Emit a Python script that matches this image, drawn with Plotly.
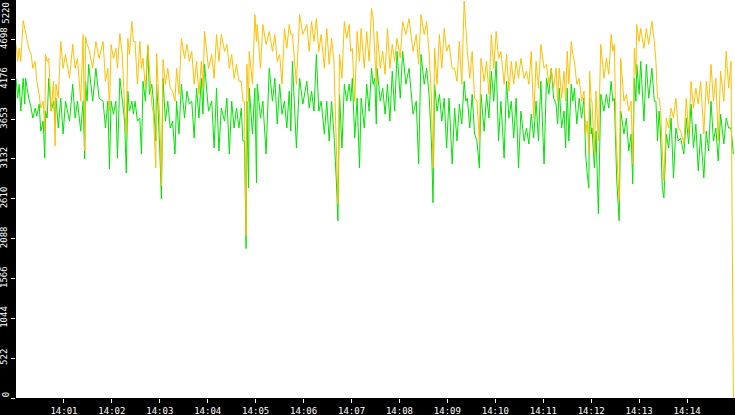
import pandas as pd
import plotly.graph_objects as go

# seconds after 14:00:00 for every sample
secs = [0, 2, 4, 6, 9, 11, 12, 16, 19, 21,
        24, 26, 29, 31, 34, 36, 37, 39, 41, 44,
        47, 49, 50, 53, 56, 59, 62, 67, 71, 74,
        77, 81, 84, 86, 87, 89, 91, 96, 100, 104,
        109, 112, 115, 117, 119, 122, 125, 127, 130, 133,
        136, 138, 140, 142, 145, 147, 149, 152, 155, 157,
        159, 162, 165, 167, 170, 172, 174, 175, 176, 178,
        180, 182, 184, 187, 190, 193, 196, 199, 201, 204,
        207, 211, 214, 217, 220, 223, 226, 229, 232, 234,
        236, 241, 245, 248, 251, 254, 257, 261, 264, 267,
        270, 273, 276, 279, 282, 284, 286, 288, 289, 291,
        292, 296, 299, 301, 302, 306, 309, 313, 317, 321,
        324, 327, 330, 333, 336, 339, 342, 344, 346, 351,
        355, 359, 364, 367, 370, 373, 376, 379, 382, 386,
        389, 392, 395, 398, 401, 403, 405, 408, 411, 414,
        417, 419, 421, 424, 427, 430, 432, 436, 439, 442,
        445, 447, 449, 451, 452, 456, 459, 462, 465, 468,
        471, 474, 477, 481, 484, 488, 492, 497, 501, 504,
        507, 511, 514, 517, 520, 522, 524, 527, 530, 533,
        536, 539, 542, 546, 549, 552, 555, 558, 561, 563,
        565, 568, 571, 574, 577, 580, 582, 586, 589, 592,
        595, 598, 601, 604, 607, 611, 614, 617, 620, 623,
        626, 629, 632, 636, 639, 642, 645, 648, 651, 654,
        657, 661, 664, 667, 670, 673, 676, 678, 680, 683,
        686, 688, 690, 692, 695, 697, 699, 702, 705, 708,
        711, 713, 715, 717, 718, 720, 721, 724, 726, 729,
        732, 736, 739, 742, 745, 747, 749, 751, 752, 755,
        757, 761, 764, 767, 770, 772, 774, 776, 777, 780,
        782, 786, 789, 792, 796, 799, 801, 803, 805, 807,
        809, 811, 814, 817, 820, 823, 826, 829, 832, 836,
        839, 842, 845, 848, 851, 854, 857, 861, 864, 867,
        870, 873, 876, 879, 882, 886, 889, 892, 895, 898]

orange = [4633, 4411, 4581, 4411, 4946, 4829, 4776, 4581, 4502, 4320,
          4411, 4150, 3980, 3798, 3889, 3497, 4502, 4411, 4450, 3759,
          4150, 3302, 4111, 3928, 4672, 4320, 4502, 4189, 4633, 4320,
          4450, 3889, 4763, 3237, 4737, 4633, 4581, 4320, 4672, 4450,
          4672, 4150, 4320, 3759, 4633, 4450, 4581, 4320, 4776, 4502,
          3798, 3458, 4711, 4502, 4933, 4672, 4672, 4111, 4672, 4320,
          4450, 4059, 4633, 4320, 3850, 3719, 3276, 3015, 4515, 4059,
          3628, 2780, 4437, 4111, 4320, 4059, 4020, 3889, 4320, 3980,
          4711, 4450, 4633, 4411, 4542, 4111, 4411, 3980, 4411, 4059,
          4803, 4320, 4502, 4189, 4763, 4411, 4763, 4542, 4633, 4320,
          4502, 4189, 4372, 4150, 4150, 3889, 3889, 2127, 4372, 3889,
          4542, 4111, 5024, 4672, 4894, 4320, 4894, 4633, 4803, 4542,
          4763, 4411, 4502, 4111, 4842, 4581, 4894, 4763, 4763, 4111,
          5024, 4763, 4894, 4542, 4933, 4672, 4972, 4542, 4763, 4320,
          4842, 4372, 4711, 4411, 3197, 2545, 4502, 4189, 4933, 4711,
          4894, 4542, 4581, 3889, 4803, 4411, 4842, 4320, 4803, 4411,
          5103, 4972, 4542, 4111, 4803, 4320, 4542, 4241, 4842, 4320,
          4633, 4411, 4711, 4450, 4933, 4763, 4972, 4542, 4763, 4372,
          5024, 4763, 4933, 4542, 3928, 3015, 4581, 4111, 4763, 4320,
          4842, 4542, 4633, 4320, 4320, 4150, 4672, 4111, 5200, 4842,
          4542, 4189, 4542, 3928, 3889, 3367, 4450, 4150, 4411, 3980,
          4763, 4320, 4803, 4450, 4542, 4111, 4502, 4020, 4411, 4111,
          4411, 4189, 4450, 4189, 4281, 4111, 4542, 3667, 4411, 4059,
          4633, 4320, 4372, 4111, 4320, 4059, 4320, 3889, 4320, 3928,
          4281, 3889, 4542, 4111, 4672, 4502, 4411, 4111, 4189, 3889,
          4020, 3458, 3628, 3197, 4281, 3889, 3889, 3197, 4020, 3367,
          4633, 4189, 4450, 4241, 4763, 4542, 4633, 3458, 3237, 2584,
          4450, 3889, 3980, 3759, 3889, 3067, 4581, 4241, 4894, 4672,
          4842, 4581, 4842, 4633, 4933, 4672, 4411, 3928, 3928, 3759,
          3237, 2845, 3667, 3537, 3798, 3667, 3928, 3537, 3497, 3328,
          3928, 3458, 4150, 3798, 4059, 3850, 4150, 3458, 4150, 3850,
          4372, 3889, 4189, 3367, 4281, 3889, 4542, 4059, 4411, 0]

green = [4189, 3928, 4111, 3759, 4189, 3850, 4189, 3928, 3798, 3667,
         3798, 3693, 3850, 3497, 3628, 3145, 3759, 3667, 4189, 3759,
         3889, 3628, 3928, 3537, 3928, 3458, 3889, 3628, 4111, 3667,
         3889, 3497, 3889, 3132, 4150, 3889, 4372, 3889, 4320, 3928,
         3889, 3537, 3889, 3002, 3889, 3719, 3889, 3145, 4189, 3928,
         3628, 2949, 4020, 3759, 3889, 3719, 3889, 3628, 3667, 3197,
         4150, 3889, 4607, 3980, 4111, 3889, 3537, 3367, 4111, 3759,
         3237, 2610, 4189, 3628, 3889, 3537, 3628, 3197, 3889, 3458,
         4111, 3667, 4020, 3850, 3889, 3406, 4059, 3667, 4189, 3719,
         4372, 3759, 3889, 3276, 4059, 3237, 3798, 3628, 3928, 3197,
         3889, 3537, 3798, 3537, 3798, 3367, 3367, 1958, 3889, 2754,
         4059, 3458, 4059, 2819, 4111, 3667, 3889, 3197, 4320, 3889,
         4189, 3589, 4111, 3719, 3889, 3537, 4020, 3497, 4411, 3276,
         4189, 3850, 4150, 3798, 4020, 3759, 4502, 3759, 3889, 3458,
         3889, 3367, 3889, 3458, 2845, 2323, 3980, 3276, 4111, 3889,
         4111, 3889, 4189, 3406, 3928, 3015, 3928, 3537, 4111, 3759,
         4320, 4111, 4189, 3589, 4320, 3889, 4059, 3719, 4111, 3628,
         4281, 3759, 4542, 3928, 4542, 4111, 4320, 3719, 3889, 3067,
         4502, 4111, 4320, 3980, 3367, 2558, 4111, 3759, 3980, 3628,
         3928, 3276, 3928, 3067, 3798, 3367, 3850, 3589, 4150, 3889,
         3928, 3537, 3980, 3458, 3367, 3015, 3980, 3497, 3980, 3667,
         4281, 3889, 4411, 3367, 3889, 3145, 4150, 3667, 3889, 3406,
         3928, 3015, 3759, 3367, 3537, 3328, 3719, 3406, 3889, 3367,
         4150, 3067, 4189, 3980, 4320, 3928, 3850, 3589, 4059, 3537,
         3759, 3276, 4059, 3367, 4111, 3889, 4059, 3589, 3928, 3667,
         3928, 3197, 2936, 2754, 3928, 3458, 3537, 3015, 3497, 2414,
         3980, 3759, 3980, 3798, 4150, 3889, 3928, 3328, 2845, 2323,
         3759, 3458, 3667, 3237, 3458, 2806, 4189, 3889, 4372, 3980,
         4411, 3628, 4372, 3928, 4320, 3889, 3889, 3367, 3759, 3406,
         2754, 2623, 3458, 3276, 3667, 2884, 3537, 3367, 3406, 3197,
         3667, 3328, 3850, 3276, 3589, 2976, 3458, 2884, 3497, 3237,
         3889, 3367, 3537, 3106, 3719, 3328, 3667, 3537, 3537, 3197]

y_ticks = [0, 522, 1044, 1566, 2088, 2610, 3132, 3653, 4176, 4698, 5220]
x_ticks = ["14:%02d" % m for m in range(1, 15)]

start = pd.Timestamp("2024-01-01 14:00:00")
times = start + pd.to_timedelta(secs, unit="s")
tick_times = [pd.Timestamp("2024-01-01 " + t) for t in x_ticks]

fig = go.Figure()
fig.add_trace(go.Scatter(x=times, y=green, mode="lines",
                         line=dict(color="#00E400", width=1)))
fig.add_trace(go.Scatter(x=times, y=orange, mode="lines",
                         line=dict(color="#FFBF00", width=1)))

font = dict(family="DejaVu Sans Mono", size=9, color="white")
fig.update_layout(
    width=735, height=415,
    margin=dict(l=16, r=0, t=0, b=17),
    paper_bgcolor="black", plot_bgcolor="white",
    showlegend=False,
    xaxis=dict(type="date", range=[start, start + pd.Timedelta(minutes=15)],
               tickvals=tick_times, ticktext=x_ticks,
               ticks="outside", ticklen=4, tickcolor="white", tickwidth=1,
               tickfont=font, showgrid=False, zeroline=False, automargin=False),
    yaxis=dict(range=[0, 5215], tickvals=y_ticks,
               ticktext=["" if v in (0, 5220) else str(v) for v in y_ticks],
               tickangle=-90, ticks="outside", ticklen=4, tickcolor="white",
               tickwidth=1, tickfont=font, showgrid=False, zeroline=False,
               automargin=False),
)
# end labels are pushed inside the plot height, as in the original
fig.add_annotation(text="5220", xref="paper", yref="paper", x=0, y=0.968,
                   xshift=-10, textangle=-90, showarrow=False, font=font,
                   xanchor="center", yanchor="middle")
fig.add_annotation(text="0", xref="paper", yref="paper", x=0, y=0.007,
                   xshift=-10, textangle=-90, showarrow=False, font=font,
                   xanchor="center", yanchor="middle")

fig.write_html("out.html", config={"displayModeBar": False},
               post_script="document.body.style.margin='0';"
                           "document.body.style.overflow='hidden';")
